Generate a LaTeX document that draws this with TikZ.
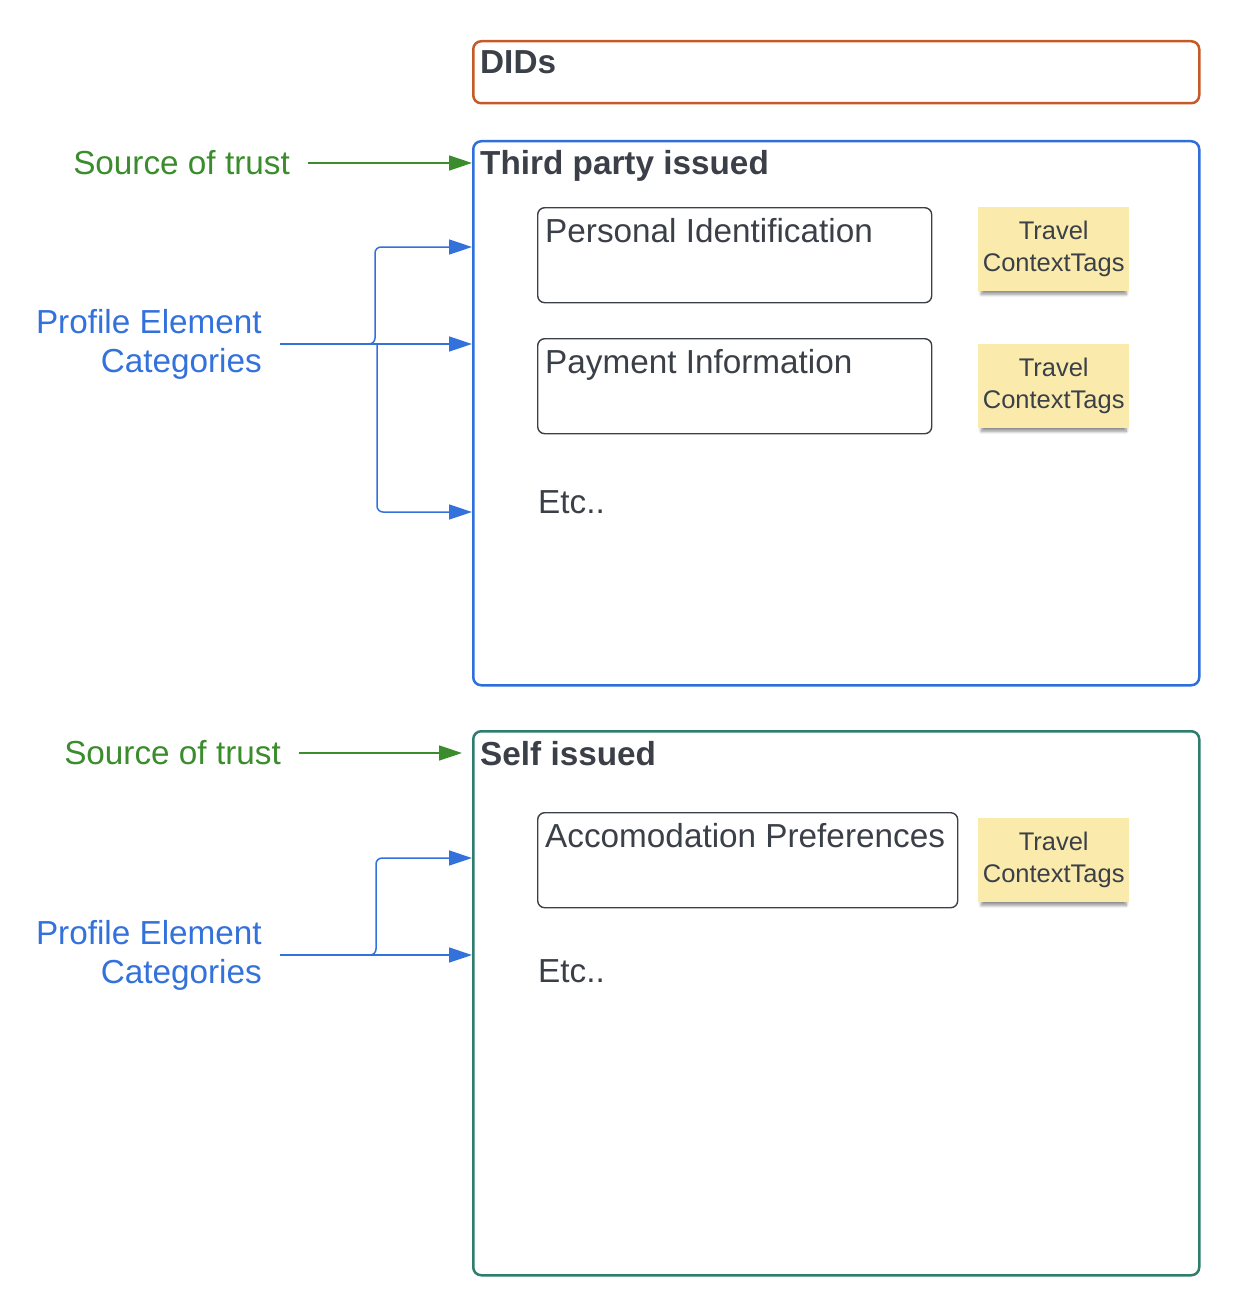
\documentclass[tikz,border=0pt]{standalone}
\usepackage{fontspec}
\setmainfont{Liberation Sans}
\usetikzlibrary{arrows.meta,shadows.blur}
\definecolor{didorange}{HTML}{C55A28}
\definecolor{thirdblue}{HTML}{2F6FDB}
\definecolor{selfteal}{HTML}{2E7D6D}
\definecolor{trustgreen}{HTML}{3A8C2C}
\definecolor{catblue}{HTML}{3371DB}
\definecolor{inktext}{HTML}{3B4048}
\definecolor{notefill}{HTML}{FAEBAD}
\tikzset{
  bigbox/.style = {draw, line width = 2.5pt, rounded corners = 8pt, anchor = north west, minimum width = 726pt, inner sep = 0pt},
  itembox/.style = {draw = inktext, line width = 1.4pt, rounded corners = 7pt, anchor = north west, minimum height = 95pt, inner sep = 0pt},
  boxtitle/.style = {anchor = base west, inner sep = 0pt, text = inktext, font = \fontsize{33.3}{39}\selectfont\bfseries},
  itemtext/.style = {anchor = base west, inner sep = 0pt, text = inktext, font = \fontsize{33.3}{39}\selectfont},
  notebox/.style = {fill = notefill, anchor = north west, minimum width = 151pt, minimum height = 84pt, inner sep = 0pt, align = center, text = inktext, font = \fontsize{25.5}{32}\selectfont, blur shadow = {shadow xshift = 0pt, shadow yshift = -5pt, shadow scale = 0.96, shadow blur radius = 3pt, shadow blur steps = 8, shadow opacity = 45}},
  sidelabel/.style = {anchor = east, inner xsep = 18pt, inner ysep = 0pt, align = right, font = \fontsize{33.3}{39}\selectfont},
  trustarrow/.style = {trustgreen, line width = 1.5pt, -{Triangle[length = 23pt, width = 15pt]}},
  catarrow/.style = {catblue, line width = 1.5pt, rounded corners = 6pt, -{Triangle[length = 23pt, width = 15pt]}}
}
\begin{document}
\begin{tikzpicture}[x = 1pt, y = -1pt]
\useasboundingbox (0, 0) rectangle (1242, 1300);
\node [bigbox, draw = didorange, minimum height = 62pt] (dids) at (472, 40) {};
\node [boxtitle] (didstitle) at (480, 74) {DIDs};
\node [bigbox, draw = thirdblue, minimum height = 544pt] (third) at (472, 140) {};
\node [boxtitle] (thirdtitle) at (480, 175) {Third party issued};
\node [itembox, minimum width = 394pt] (pid) at (537, 207) {};
\node [itemtext] (pidtext) at (545, 242) {Personal Identification};
\node [notebox] (pidtags) at (978, 207) {Travel\\ContextTags};
\node [itembox, minimum width = 394pt] (pay) at (537, 338) {};
\node [itemtext] (paytext) at (545, 373) {Payment Information};
\node [notebox] (paytags) at (978, 344) {Travel\\ContextTags};
\node [itemtext] (thirdetc) at (538, 513) {Etc..};
\node [bigbox, draw = selfteal, minimum height = 544pt] (self) at (472, 730) {};
\node [boxtitle] (selftitle) at (480, 765) {Self issued};
\node [itembox, minimum width = 420pt] (acc) at (537, 812) {};
\node [itemtext] (acctext) at (545, 847) {Accomodation Preferences};
\node [notebox] (acctags) at (978, 818) {Travel\\ContextTags};
\node [itemtext] (selfetc) at (538, 982) {Etc..};
\node [sidelabel, text = trustgreen] (trust1) at (308, 163) {Source of trust};
\node [sidelabel, text = catblue] (cat1) at (280, 344) {Profile Element\\Categories};
\node [sidelabel, text = trustgreen] (trust2) at (299, 753) {Source of trust};
\node [sidelabel, text = catblue] (cat2) at (280, 955) {Profile Element\\Categories};
\draw [trustarrow] (trust1.east) -- (trust1.east -| third.west);
\draw [catarrow] (cat1.east) -| (375, 247) -- (third.west |- 0, 247);
\draw [catarrow] (cat1.east) -- (cat1.east -| third.west);
\draw [catarrow] ([xshift = 97pt]cat1.east) |- (third.west |- 0, 512);
\draw [trustarrow, shorten > = 10pt] (trust2.east) -- (trust2.east -| self.west);
\draw [catarrow] (cat2.east) -| (376, 858) -- (self.west |- 0, 858);
\draw [catarrow] (cat2.east) -- (cat2.east -| self.west);
\end{tikzpicture}
\end{document}
